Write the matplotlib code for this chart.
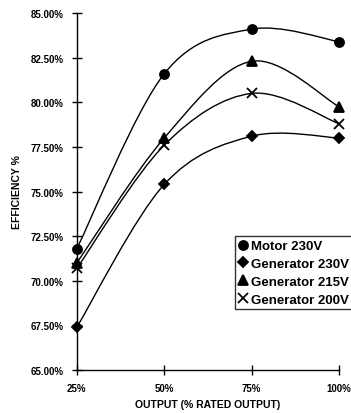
import matplotlib.pyplot as plt
from matplotlib.path import Path
from matplotlib.patches import PathPatch

plt.rcParams['font.family'] = ['Liberation Sans', 'DejaVu Sans']
plt.rcParams['font.weight'] = 'bold'

# data
categories = ['25%', '50%', '75%', '100%']
motor_230 = [71.8, 81.6, 84.1, 83.4]
gen_230 = [67.4, 75.4, 78.1, 78.0]
gen_215 = [71.0, 78.0, 82.3, 79.75]
gen_200 = [70.7, 77.6, 80.5, 78.8]

series = [
    ('Motor 230V', motor_230, 'o', 6.5),
    ('Generator 230V', gen_230, 'D', 5.5),
    ('Generator 215V', gen_215, '^', 7),
    ('Generator 200V', gen_200, 'x', 7),
]


def smooth_path(xs, ys):
    # excel style smoothed line: cubic bezier with catmull-rom control points
    n = len(xs)
    verts = [(xs[0], ys[0])]
    codes = [Path.MOVETO]
    for i in range(n - 1):
        x0, y0 = (xs[i - 1], ys[i - 1]) if i > 0 else (xs[i], ys[i])
        x1, y1 = xs[i], ys[i]
        x2, y2 = xs[i + 1], ys[i + 1]
        x3, y3 = (xs[i + 2], ys[i + 2]) if i + 2 < n else (x2, y2)
        c1 = (x1 + (x2 - x0) / 6, y1 + (y2 - y0) / 6)
        c2 = (x2 - (x3 - x1) / 6, y2 - (y3 - y1) / 6)
        verts += [c1, c2, (x2, y2)]
        codes += [Path.CURVE4] * 3
    return Path(verts, codes)


fig = plt.figure(figsize=(3.51, 4.14), dpi=100)
ax = fig.add_axes([0.219, 0.104, 0.747, 0.862])

x = list(range(len(categories)))
for label, vals, marker, ms in series:
    ax.add_patch(PathPatch(smooth_path(x, vals), facecolor='none',
                           edgecolor='black', lw=1.0, clip_on=False))
    ax.plot(x, vals, linestyle='none', marker=marker, color='black',
            markersize=ms, mew=1.3, clip_on=False, label=label)

ax.set_xlim(0, 3)
ax.set_ylim(65, 85)
ax.set_xticks(x)
ax.set_xticklabels(categories)
ax.set_yticks([65 + 2.5 * i for i in range(9)])
ax.set_yticklabels(['%.2f%%' % (65 + 2.5 * i) for i in range(9)])
for s in ['top', 'right']:
    ax.spines[s].set_visible(False)
ax.spines['left'].set_linewidth(1.0)
ax.spines['bottom'].set_linewidth(1.0)
ax.tick_params(direction='inout', length=7, width=1.0, labelsize=7, pad=2)
ax.tick_params(axis='y', pad=6)
ax.tick_params(axis='x', pad=6)

ax.set_xlabel('OUTPUT (% RATED OUTPUT)', fontsize=7.5, fontweight='bold', labelpad=4)
ax.set_ylabel('EFFICIENCY %', fontsize=7.5, fontweight='bold', labelpad=6)

leg = ax.legend(loc='upper left', bbox_to_anchor=(235 / 351, 1 - 237 / 414),
                bbox_transform=fig.transFigure, frameon=True, fancybox=False,
                edgecolor='black', fontsize=9.5, handlelength=0.6,
                handletextpad=0.3, labelspacing=0.42, borderpad=0.3,
                borderaxespad=0)
leg.get_frame().set_linewidth(1.0)

plt.savefig('out.png', dpi=100)
plt.close(fig)
